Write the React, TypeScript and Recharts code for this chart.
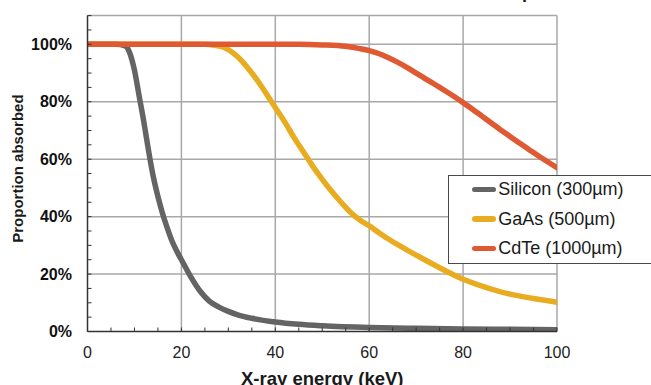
import React from 'react';
import { LineChart, Line, XAxis, YAxis, CartesianGrid, Legend, Label } from 'recharts';

const FONT = '"Liberation Sans", Arial, Helvetica, sans-serif';

const chartTitle = 'Sensor absorption';
const xAxisTitle = 'X-ray energy (keV)';
const yAxisTitle = 'Proportion absorbed';

const siliconName = 'Silicon (300µm)';
const siliconEnergy = [0, 6, 8, 9, 10, 11, 12, 13, 14, 15, 16, 17, 18, 19, 20, 22, 24, 26, 28, 30, 32, 35, 40, 45, 50, 60, 70, 80, 90, 100];
const siliconAbsorbed = [100, 100, 99.5, 97, 91, 82, 73, 63, 54, 47, 41, 36, 31.5, 28, 25, 19, 14, 10.5, 8.5, 7, 5.8, 4.6, 3.3, 2.5, 2, 1.4, 1.1, 0.9, 0.75, 0.6];

const gaasName = 'GaAs (500µm)';
const gaasEnergy = [0, 25, 27, 29, 31, 33, 35, 37, 39, 40, 42, 44, 46, 48, 50, 52, 54, 56, 58, 60, 62, 64, 66, 68, 70, 75, 80, 85, 90, 95, 100];
const gaasAbsorbed = [100, 100, 99.7, 99, 97, 94, 90, 85.5, 80.5, 78, 73, 67.5, 62.5, 57.5, 53, 48.8, 45, 41.5, 38.8, 36.8, 34.5, 32.3, 30.3, 28.4, 26.6, 22.2, 18.2, 15.3, 13, 11.5, 10.2];

const cdteName = 'CdTe (1000µm)';
const cdteEnergy = [0, 45, 50, 55, 58, 60, 62, 64, 66, 68, 70, 72, 74, 76, 78, 80, 82, 84, 86, 88, 90, 92, 94, 96, 98, 100];
const cdteAbsorbed = [100, 100, 99.8, 99.3, 98.5, 97.8, 96.8, 95.4, 93.8, 92, 90, 88, 86, 84, 81.9, 79.7, 77.4, 75, 72.6, 70.2, 67.9, 65.6, 63.4, 61.2, 59.1, 57];

const seriesOrder = [siliconName, gaasName, cdteName];

const xTicks = [0, 5, 10, 15, 20, 25, 30, 35, 40, 45, 50, 55, 60, 65, 70, 75, 80, 85, 90, 95, 100];
const yTicks = [0, 5, 10, 15, 20, 25, 30, 35, 40, 45, 50, 55, 60, 65, 70, 75, 80, 85, 90, 95, 100, 105, 110];
const gridX = [20, 40, 60, 80, 100];
const gridY = [20, 40, 60, 80, 100, 110];

const toData = (xs: number[], ys: number[]) => xs.map((e, i) => ({ energy: e, value: ys[i] }));
const siliconData = toData(siliconEnergy, siliconAbsorbed);
const gaasData = toData(gaasEnergy, gaasAbsorbed);
const cdteData = toData(cdteEnergy, cdteAbsorbed);

const LegendBox = (props: any) => {
  const payload = [...(props.payload || [])].sort(
    (a: any, b: any) => seriesOrder.indexOf(a.value) - seriesOrder.indexOf(b.value)
  );
  return (
    <div
      style={{
        width: 215,
        height: 87,
        border: '1px solid #4a4a4a',
        background: '#fff',
        boxSizing: 'content-box',
        fontFamily: FONT,
        fontSize: 18,
        color: '#1a1a1a',
      }}
    >
      <div style={{ marginTop: -1.5 }}>
        {payload.map((p: any) => (
          <div key={p.value} style={{ display: 'flex', alignItems: 'center', height: 29.7, whiteSpace: 'nowrap' }}>
            <span
              style={{
                display: 'inline-block',
                marginLeft: 23,
                width: 23.5,
                height: 5.5,
                borderRadius: 3,
                background: p.color,
              }}
            />
            <span style={{ marginLeft: 2.7 }}>{p.value}</span>
          </div>
        ))}
      </div>
    </div>
  );
};

export default function App() {
  return (
    <div style={{ position: 'absolute', left: 0, top: 0, width: 651, height: 385, overflow: 'hidden', background: '#fff' }}>
      <div
        style={{
          position: 'absolute',
          right: 85,
          top: -17.5,
          fontFamily: FONT,
          fontWeight: 700,
          fontSize: 18,
          lineHeight: '18px',
          color: '#1a1a1a',
          whiteSpace: 'nowrap',
          zIndex: 2,
        }}
      >
        {chartTitle}
      </div>
      <LineChart width={651} height={385} margin={{ top: 15.6, right: 94, bottom: 0, left: 0 }}>
        <CartesianGrid
          stroke="#a8a8a8"
          strokeWidth={1.5}
          horizontalValues={gridY}
          verticalValues={gridX}
        />
        <XAxis
          dataKey="energy"
          type="number"
          domain={[0, 100]}
          ticks={xTicks}
          interval={0}
          allowDataOverflow
          height={53.5}
          tickSize={-4}
          tickMargin={19}
          tickFormatter={(v: number) => (v % 20 === 0 ? String(v) : '')}
          axisLine={{ stroke: '#333', strokeWidth: 1.5 }}
          tickLine={{ stroke: '#333', strokeWidth: 1 }}
          tick={{ fill: '#222', fontSize: 16, fontFamily: FONT }}
        >
          <Label
            content={(p: any) => {
              const vb = p.viewBox || { x: 87.5, y: 331.5, width: 469.5 };
              return (
                <text
                  x={vb.x + vb.width / 2}
                  y={vb.y + 53.5}
                  textAnchor="middle"
                  fontFamily={FONT}
                  fontWeight={700}
                  fontSize={18.5}
                  fill="#1a1a1a"
                >
                  {xAxisTitle}
                </text>
              );
            }}
          />
        </XAxis>
        <YAxis
          type="number"
          domain={[0, 110]}
          ticks={yTicks}
          interval={0}
          allowDataOverflow
          width={87.5}
          tickSize={-4}
          tickMargin={19.5}
          tickFormatter={(v: number) => (v % 20 === 0 && v <= 100 ? `${v}%` : '')}
          axisLine={{ stroke: '#333', strokeWidth: 1.5 }}
          tickLine={{ stroke: '#333', strokeWidth: 1 }}
          tick={{ fill: '#111', fontSize: 16, fontWeight: 700, fontFamily: FONT }}
        >
          <Label
            content={(p: any) => {
              const vb = p.viewBox || { x: 0, y: 15.6, width: 87.5, height: 315.9 };
              const cx = vb.x + 23.5;
              const cy = vb.y + vb.height / 2 - 5;
              return (
                <text
                  x={cx}
                  y={cy}
                  transform={`rotate(-90 ${cx} ${cy})`}
                  textAnchor="middle"
                  fontFamily={FONT}
                  fontWeight={700}
                  fontSize={15}
                  fill="#1a1a1a"
                >
                  {yAxisTitle}
                </text>
              );
            }}
          />
        </YAxis>
        <Legend
          layout="vertical"
          align="center"
          verticalAlign="middle"
          content={<LegendBox />}
          wrapperStyle={{ position: 'absolute', left: 448, top: 175, width: 217, height: 89, margin: 0 }}
        />
        <Line
          data={siliconData}
          dataKey="value"
          name={siliconName}
          type="monotone"
          stroke="#646464"
          strokeWidth={5.5}
          strokeLinecap="round"
          strokeLinejoin="round"
          dot={false}
          activeDot={false}
          isAnimationActive={false}
        />
        <Line
          data={gaasData}
          dataKey="value"
          name={gaasName}
          type="monotone"
          stroke="#E9AB20"
          strokeWidth={5.5}
          strokeLinecap="round"
          strokeLinejoin="round"
          dot={false}
          activeDot={false}
          isAnimationActive={false}
        />
        <Line
          data={cdteData}
          dataKey="value"
          name={cdteName}
          type="monotone"
          stroke="#DF5A32"
          strokeWidth={5.5}
          strokeLinecap="round"
          strokeLinejoin="round"
          dot={false}
          activeDot={false}
          isAnimationActive={false}
        />
      </LineChart>
    </div>
  );
}
